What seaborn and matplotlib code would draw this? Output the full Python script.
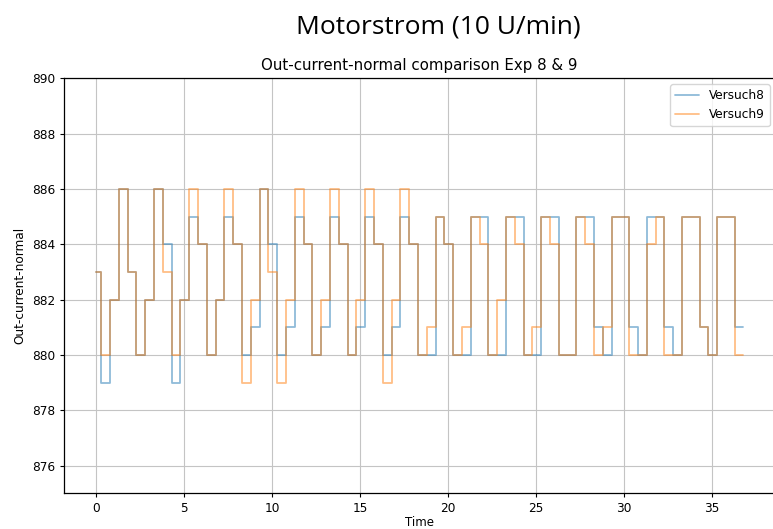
import matplotlib
matplotlib.use("Agg")
import matplotlib.pyplot as plt
import seaborn as sns

# Sample times (s) shared by both runs
time = [0.0, 0.3, 0.8, 1.3, 1.8, 2.3, 2.8, 3.3, 3.8, 4.3, 4.8, 5.3, 5.8, 6.3, 6.8,
        7.3, 7.8, 8.3, 8.8, 9.3, 9.8, 10.3, 10.8, 11.3, 11.8, 12.3, 12.8, 13.3,
        13.8, 14.3, 14.8, 15.3, 15.8, 16.3, 16.8, 17.3, 17.8, 18.3, 18.8, 19.3,
        19.8, 20.3, 20.8, 21.3, 21.8, 22.3, 22.8, 23.3, 23.8, 24.3, 24.8, 25.3,
        25.8, 26.3, 26.8, 27.3, 27.8, 28.3, 28.8, 29.3, 29.8, 30.3, 30.8, 31.3,
        31.8, 32.3, 32.8, 33.3, 33.8, 34.3, 34.8, 35.3, 35.8, 36.3, 36.78]

versuch8 = [883, 879, 882, 886, 883, 880, 882, 886, 884, 879, 882, 885, 884, 880,
            882, 885, 884, 880, 881, 886, 884, 880, 881, 885, 884, 880, 881, 885,
            884, 880, 881, 885, 884, 880, 881, 885, 884, 880, 880, 885, 884, 880,
            880, 885, 885, 880, 880, 885, 885, 880, 880, 885, 885, 880, 880, 885,
            885, 881, 880, 885, 885, 881, 880, 885, 885, 881, 880, 885, 885, 881,
            880, 885, 885, 881, 881]

versuch9 = [883, 880, 882, 886, 883, 880, 882, 886, 883, 880, 882, 886, 884, 880,
            882, 886, 884, 879, 882, 886, 883, 879, 882, 886, 884, 880, 882, 886,
            884, 880, 882, 886, 884, 879, 882, 886, 884, 880, 881, 885, 884, 880,
            881, 885, 884, 880, 882, 885, 884, 880, 881, 885, 884, 880, 880, 885,
            884, 880, 881, 885, 885, 880, 880, 884, 885, 880, 880, 885, 885, 881,
            880, 885, 885, 880, 880]

series = [("Versuch8", versuch8, "#1f77b4"), ("Versuch9", versuch9, "#ff7f0e")]

sns.set_style("ticks")
plt.rcParams["font.family"] = ["DejaVu Sans"]
plt.rcParams["text.color"] = "black"
plt.rcParams["axes.labelcolor"] = "black"
plt.rcParams["xtick.color"] = "black"
plt.rcParams["ytick.color"] = "black"

W, H = 773, 529
fig = plt.figure(figsize=(W / 100, H / 100), dpi=100)
left, right, top, bottom = 63.5, 775.6, 78.3, 493.3
ax = fig.add_axes([left / W, 1 - bottom / H, (right - left) / W, (bottom - top) / H])

for name, values, color in series:
    sns.lineplot(x=time, y=values, ax=ax, color=color, alpha=0.5, linewidth=1.3,
                 drawstyle="steps-post", label=name)

ax.set_xlim(-1.84, 38.62)
ax.set_ylim(875, 890)
ax.set_xticks(range(0, 36, 5))
ax.set_yticks(range(876, 891, 2))
ax.grid(True, color="#c4c4c4", linewidth=0.8)
for s in ax.spines.values():
    s.set_color("black")
    s.set_linewidth(0.9)
ax.spines["right"].set_visible(False)
ax.tick_params(labelsize=8.7, length=3.2, width=0.8, pad=3)

ax.set_title("Out-current-normal comparison Exp 8 & 9", fontsize=10.8, pad=6)
ax.set_xlabel("Time", fontsize=8.5, labelpad=0.5)
ax.set_ylabel("Out-current-normal", fontsize=8.7, labelpad=4)
ax.legend(loc="upper right", fontsize=8.7, frameon=True, framealpha=0.8,
          edgecolor="#cccccc", fancybox=True)

fig.text(438 / W, 1 - 27 / H, "Motorstrom (10 U/min)", ha="center", va="center",
         fontsize=19, family=["Open Sans", "DejaVu Sans"])

fig.savefig("out.png", dpi=100)
